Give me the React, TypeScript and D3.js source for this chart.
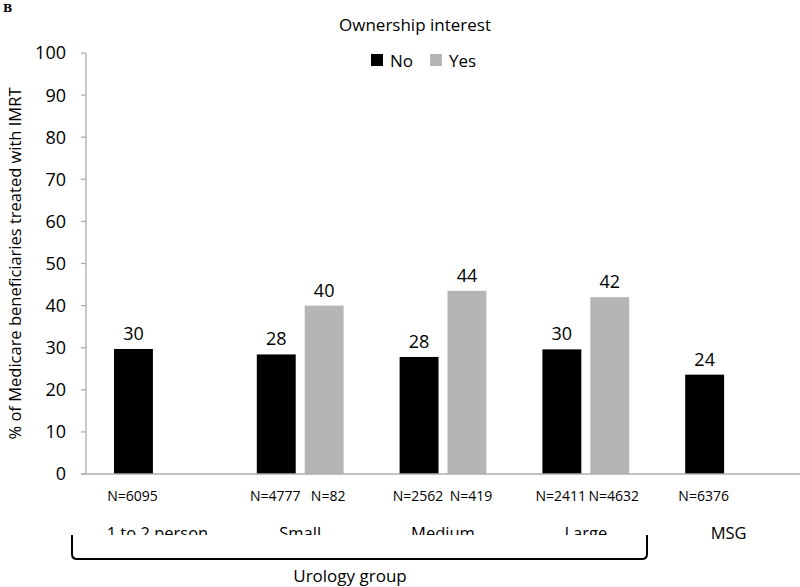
import React from "react";
import * as d3 from "d3";

const W = 800;
const H = 587;

// categories and series
const categories = ["1 to 2 person", "Small", "Medium", "Large", "MSG"];
const series = ["No", "Yes"];
const noValues = [29.7, 28.4, 27.8, 29.6, 23.6];
const yesValues: (number | null)[] = [null, 40.0, 43.5, 42.0, null];
const noCounts = ["N=6095", "N=4777", "N=2562", "N=2411", "N=6376"];
const yesCounts: (string | null)[] = [null, "N=82", "N=419", "N=4632", null];
const yTicks = [0, 10, 20, 30, 40, 50, 60, 70, 80, 90, 100];
const urologyGroup = ["1 to 2 person", "Small", "Medium", "Large"];

const FONT = "'Open Sans', sans-serif";
const BLACK = "#000000";
const GREY = "#b5b5b5";
const AXIS = "#adadad";

export default function App() {
  const axisX = 86;
  const y = d3.scaleLinear().domain([0, 100]).range([474, 53]);
  const x0 = d3.scaleBand().domain(categories).range([axisX, W]).paddingInner(0).paddingOuter(0);
  const x1 = d3.scaleBand().domain(series).range([28, x0.bandwidth() - 28]).paddingInner(0.1875);

  const colors: Record<string, string> = { No: BLACK, Yes: GREY };

  const rows = categories.map((c, i) => ({
    cat: c,
    bars: [
      { s: "No", v: noValues[i], n: noCounts[i] },
      { s: "Yes", v: yesValues[i], n: yesCounts[i] },
    ].filter((b) => b.v !== null) as { s: string; v: number; n: string }[],
  }));

  const catX = (c: string) => (x0(c) ?? 0) + x0.bandwidth() / 2;
  const bracketL = 72;
  const bracketR = 647;
  const bracketY = 559;
  const bracketTop = 535;
  const r = 5;

  return (
    <svg width={W} height={H} style={{ position: "absolute", left: 0, top: 0, background: "#fff" }}>
      <defs>
        <clipPath id="catclip">
          <rect x={0} y={0} width={W} height={535} />
        </clipPath>
      </defs>
      <text x={3} y={12} fontFamily="'DejaVu Serif', serif" fontWeight="bold" fontSize={11}>B</text>
      <text x={415} y={31} textAnchor="middle" fontFamily={FONT} fontSize={17}>Ownership interest</text>

      {/* legend */}
      {series.map((s, i) => {
        const lx = 371 + i * 59;
        return (
          <g key={s}>
            <rect x={lx} y={54} width={12} height={12} fill={colors[s]} />
            <text x={lx + 19} y={67} fontFamily={FONT} fontSize={17}>{s}</text>
          </g>
        );
      })}

      {/* y axis */}
      <line x1={axisX} x2={axisX} y1={y(100)} y2={y(0)} stroke={AXIS} strokeWidth={1.3} />
      {yTicks.map((t) => (
        <g key={t}>
          <line x1={axisX - 5} x2={axisX} y1={y(t)} y2={y(t)} stroke={AXIS} strokeWidth={1.3} />
          <text x={66} y={y(t)} dy="0.36em" textAnchor="end" fontFamily={FONT} fontSize={18}>{t}</text>
        </g>
      ))}
      <text
        transform={`translate(21,${(y(0) + y(100)) / 2}) rotate(-90)`}
        textAnchor="middle"
        fontFamily={FONT}
        fontSize={16.5}
      >
        % of Medicare beneficiaries treated with IMRT
      </text>

      {/* bars */}
      {rows.map((row) => (
        <g key={row.cat} transform={`translate(${x0(row.cat)},0)`}>
          {row.bars.map((b) => {
            const bx = x1(b.s) ?? 0;
            const bw = x1.bandwidth();
            return (
              <g key={b.s}>
                <rect x={bx} y={y(b.v)} width={bw} height={y(0) - y(b.v)} fill={colors[b.s]} />
                <text x={bx + bw / 2} y={y(b.v) - 9} textAnchor="middle" fontFamily={FONT} fontSize={18}>
                  {Math.round(b.v)}
                </text>
                <text
                  x={bx + bw / 2 + (b.s === "Yes" ? 4 : -1)}
                  y={501}
                  textAnchor="middle"
                  fontFamily={FONT}
                  fontSize={14}
                >
                  {b.n}
                </text>
              </g>
            );
          })}
        </g>
      ))}

      {/* x axis */}
      <line x1={axisX - 5} x2={W} y1={y(0)} y2={y(0)} stroke={AXIS} strokeWidth={1.3} />

      {/* category labels */}
      {categories.map((c) => (
        <text
          key={c}
          x={catX(c)}
          y={539}
          textAnchor="middle"
          fontFamily={FONT}
          fontSize={16.5}
          clipPath={urologyGroup.includes(c) ? "url(#catclip)" : undefined}
        >
          {c}
        </text>
      ))}

      {/* bracket */}
      <path
        d={`M${bracketL},${bracketTop} V${bracketY - r} Q${bracketL},${bracketY} ${bracketL + r},${bracketY} H${bracketR - r} Q${bracketR},${bracketY} ${bracketR},${bracketY - r} V${bracketTop}`}
        fill="none"
        stroke={BLACK}
        strokeWidth={2}
      />
      <text x={350} y={582} textAnchor="middle" fontFamily={FONT} fontSize={17}>Urology group</text>
    </svg>
  );
}
